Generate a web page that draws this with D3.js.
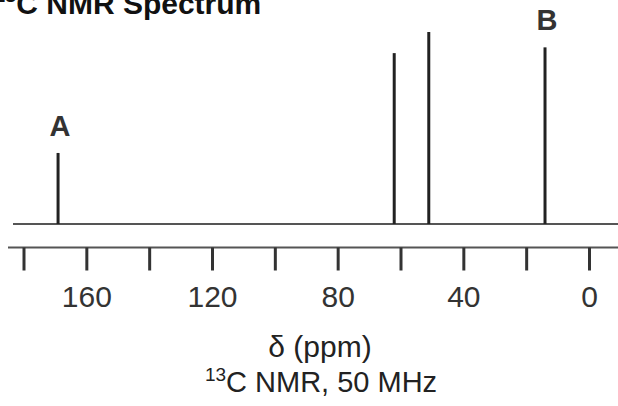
<!DOCTYPE html>
<html>
<head>
<meta charset="utf-8">
<script src="https://cdn.jsdelivr.net/npm/d3@7"></script>
<style>
  body { margin: 0; background: #fff; }
  svg text { font-family: "Liberation Sans", Arial, sans-serif; fill: #222; }
</style>
</head>
<body>
<div id="main-container"></div>
<script>
// DATA
const peakShifts = [169, 62, 51, 14];        // ppm
const peakHeights = [37, 89, 100, 92];       // relative intensity
const peakLabels = ["A", "", "", "B"];
const tickValues = [180, 160, 140, 120, 100, 80, 60, 40, 20, 0];
const labelledTicks = [160, 120, 80, 40, 0];

const width = 618, height = 406;

const svg = d3.select("#main-container")
    .append("svg")
        .attr("width", width)
        .attr("height", height);

let x = d3.scaleLinear()
    .domain([180, 0])
    .range([23.5, 589]);

let y = d3.scaleLinear()
    .domain([0, 100])
    .range([224, 32]);

// title, cut off at the top like the source
svg.append("text")
    .attr("x", -6)
    .attr("y", 14)
    .style("font-size", "30px")
    .style("font-weight", "bold")
    .style("fill", "#111")
    .call(t => {
        t.append("tspan").text("13").style("font-size", "20px").attr("dy", -12);
        t.append("tspan").text("C NMR Spectrum").attr("dy", 12);
    });

// spectrum baseline
svg.append("line")
    .attr("x1", 13).attr("x2", width)
    .attr("y1", y(0)).attr("y2", y(0))
    .attr("stroke", "#555")
    .attr("stroke-width", 2);

// peaks
const peaks = peakShifts.map((d, i) => ({ppm: d, h: peakHeights[i], label: peakLabels[i]}));

svg.selectAll(".peak")
    .data(peaks)
    .enter()
    .append("line")
    .attr("class", "peak")
    .attr("x1", d => x(d.ppm)).attr("x2", d => x(d.ppm))
    .attr("y1", y(0)).attr("y2", d => y(d.h))
    .attr("stroke", "#222")
    .attr("stroke-width", 3);

svg.selectAll(".plabel")
    .data(peaks.filter(d => d.label))
    .enter()
    .append("text")
    .attr("class", "plabel")
    .attr("x", d => x(d.ppm) + 2)
    .attr("y", d => y(d.h) - 17)
    .attr("text-anchor", "middle")
    .style("font-size", "29px")
    .style("font-weight", "bold")
    .style("fill", "#333")
    .text(d => d.label);

// axis
const axisY = 247.5;
svg.append("line")
    .attr("x1", 8).attr("x2", width)
    .attr("y1", axisY).attr("y2", axisY)
    .attr("stroke", "#555")
    .attr("stroke-width", 2);

const axis = svg.append("g")
    .attr("transform", `translate(0, ${axisY})`)
    .call(d3.axisBottom(x)
        .tickValues(tickValues)
        .tickSize(23)
        .tickPadding(15)
        .tickFormat(d => labelledTicks.includes(d) ? d : ""));

axis.select(".domain").remove();
axis.selectAll(".tick line")
    .attr("stroke", "#333")
    .attr("stroke-width", 3);
axis.selectAll(".tick text")
    .style("font-size", "30px")
    .style("font-family", "'Liberation Sans', Arial, sans-serif")
    .style("fill", "#333");

// axis titles
svg.append("text")
    .attr("x", 320)
    .attr("y", 357)
    .attr("text-anchor", "middle")
    .style("font-size", "30px")
    .text("δ (ppm)");

svg.append("text")
    .attr("x", 321)
    .attr("y", 392)
    .attr("text-anchor", "middle")
    .style("font-size", "29px")
    .call(t => {
        t.append("tspan").text("13").style("font-size", "19px").attr("dy", -11);
        t.append("tspan").text("C NMR, 50 MHz").attr("dy", 11);
    });
</script>
</body>
</html>
